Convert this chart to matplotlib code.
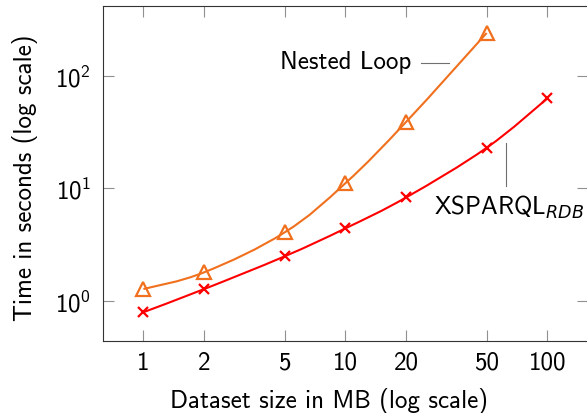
import numpy as np
import matplotlib
matplotlib.use("Agg")
import matplotlib.pyplot as plt
from matplotlib.path import Path
from matplotlib.patches import PathPatch

plt.rcParams.update({
    "font.family": "cmss10",
    "mathtext.fontset": "custom",
    "mathtext.rm": "cmss10",
    "mathtext.sf": "cmss10",
    "mathtext.it": "DejaVu Sans:italic",
    "axes.unicode_minus": False,
    "font.size": 18,
})

# data (MB -> seconds)
size_nested = [1, 2, 5, 10, 20, 50]
time_nested = [1.27, 1.79, 4.05, 11.1, 39.0, 240]
size_xsparql = [1, 2, 5, 10, 20, 50, 100]
time_xsparql = [0.79, 1.27, 2.48, 4.40, 8.3, 22.9, 63]
xticks = [1, 2, 5, 10, 20, 50, 100]

ORANGE = "#F0701E"
RED = "#FF0000"


def smooth_path(xs, ys, tension=0.55):
    # tikz-like smooth curve through the points, built in log space
    lx, ly = np.log10(xs), np.log10(ys)
    pts = np.column_stack([lx, ly])
    verts = [pts[0]]
    codes = [Path.MOVETO]
    n = len(pts)
    for i in range(n - 1):
        p0 = pts[i - 1] if i > 0 else pts[i]
        p1, p2 = pts[i], pts[i + 1]
        p3 = pts[i + 2] if i + 2 < n else pts[i + 1]
        c1 = p1 + (p2 - p0) * tension / 3
        c2 = p2 - (p3 - p1) * tension / 3
        verts += [c1, c2, p2]
        codes += [Path.CURVE4] * 3
    return Path(10 ** np.array(verts), codes)


fig = plt.figure(figsize=(5.87, 4.14), dpi=100)
ax = fig.add_axes([0.1755, 0.174, 0.826, 0.809])
ax.set_xscale("log")
ax.set_yscale("log")
ax.set_xlim(10 ** -0.2, 10 ** 2.2)
ax.set_ylim(10 ** -0.358, 10 ** 2.62)

for xs, ys, col, mk, ms in [(size_nested, time_nested, ORANGE, "^", 9.5),
                            (size_xsparql, time_xsparql, RED, "x", 7)]:
    ax.add_patch(PathPatch(smooth_path(xs, ys), facecolor="none",
                           edgecolor=col, linewidth=1.5, zorder=3))
    ax.plot(xs, ys, linestyle="none", marker=mk, markersize=ms,
            markerfacecolor="none", markeredgecolor=col,
            markeredgewidth=1.6, zorder=4)

ax.set_xticks(xticks)
ax.set_xticklabels([str(v) for v in xticks])
ax.set_yticks([1, 10, 100])
ax.set_yticklabels([r"$10^0$", r"$10^1$", r"$10^2$"])
ax.minorticks_off()
ax.tick_params(which="major", direction="in", length=8, width=0.8,
               color="#909090", top=True, right=True, pad=7)
ax.tick_params(axis="y", pad=9)
for s in ax.spines.values():
    s.set_linewidth(0.8)
    s.set_color("#333333")

ax.set_xlabel("Dataset size in MB (log scale)", va="baseline")
ax.set_ylabel("Time in seconds (log scale)", va="baseline")
ax.xaxis.set_label_coords(0.466, -0.198)
ax.yaxis.set_label_coords(-0.1465, 0.49)

# pin labels
ax.text(10, 133, "Nested Loop", ha="center", va="center")
ax.plot([23.6, 32.6], [130.6, 130.6], color="#707070", linewidth=0.8)
ax.text(27.5, 5.87, r"XSPARQL$_{\mathit{RDB}}$", ha="left", va="baseline")
ax.plot([62.5, 62.5], [25.2, 10.4], color="#707070", linewidth=0.8)

fig.savefig("out.png", dpi=100)
